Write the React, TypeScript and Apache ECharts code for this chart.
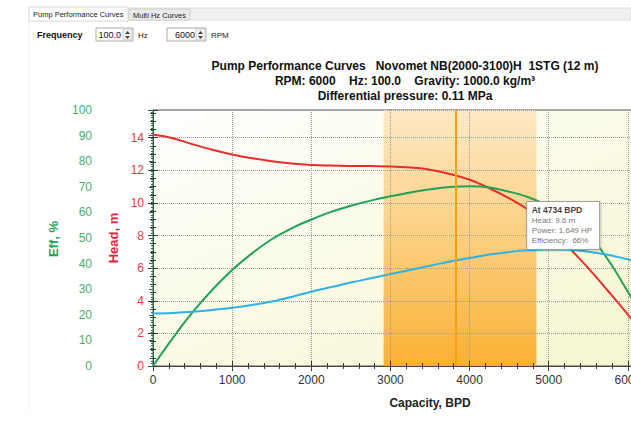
import React, { useEffect, useRef } from "react";
import * as echarts from "echarts";

const capacity = [0, 250, 500, 750, 1000, 1250, 1500, 1750, 2000, 2250, 2500, 2750, 3000, 3250, 3500, 3750, 4000, 4250, 4500, 4734, 5000, 5250, 5500, 5750, 6000, 6250];
const headM = [14.2, 13.97, 13.6, 13.26, 12.97, 12.74, 12.56, 12.42, 12.33, 12.29, 12.27, 12.26, 12.24, 12.17, 12.04, 11.78, 11.42, 10.9, 10.28, 9.6, 8.65, 7.3, 6.0, 4.6, 3.15, 1.6];
const effPct = [0, 10.9, 21, 29.8, 37.5, 44, 49.5, 53.8, 57.2, 60.2, 62.6, 64.6, 66.3, 67.8, 69, 69.9, 70.2, 69.7, 68.1, 66, 62.5, 58, 51.5, 41.5, 29, 16];
const powerHP = [0.75, 0.755, 0.775, 0.8, 0.83, 0.87, 0.92, 0.985, 1.06, 1.125, 1.19, 1.25, 1.31, 1.37, 1.43, 1.49, 1.54, 1.59, 1.625, 1.649, 1.66, 1.657, 1.63, 1.585, 1.52, 1.44];

const bandRange = [2914, 4845];
const bepCapacity = 3824;
const tip = { bpd: 4734, head: 9.6, power: 1.649, eff: 66 };

const titleLines = [
  "Pump Performance Curves   Novomet NB(2000-3100)H  1STG (12 m)",
  "RPM: 6000    Hz: 100.0    Gravity: 1000.0 kg/m³",
  "Differential pressure: 0.11 MPa",
];

const FONT = "'Liberation Sans', Arial, sans-serif";
const UIFONT = "'Liberation Sans', Arial, sans-serif";

export default function App() {
  const ref = useRef<HTMLDivElement>(null);
  useEffect(() => {
    if (!ref.current) return;
    const chart = echarts.init(ref.current, undefined, { renderer: "svg" });
    const pairs = (ys: number[]) => capacity.map((c, i) => [c, ys[i]]);
    const dotted = { show: true, lineStyle: { color: "#9a9a9a", type: "dotted" as const, width: 1 } };
    const baseX = { type: "value" as const, min: 0, max: 7000, interval: 1000, gridIndex: 0 };
    const option: any = {
      animation: false,
      backgroundColor: "#ffffff",
      grid: {
        left: 153, top: 110, width: 554, height: 256, show: true,
        backgroundColor: new echarts.graphic.LinearGradient(0, 0, 1, 1, [
          { offset: 0, color: "#ffffff" },
          { offset: 1, color: "#f5f5cc" },
        ]),
        borderColor: "#555", borderWidth: 1, z: 0,
      },
      xAxis: [
        {
          ...baseX, position: "bottom", z: 2,
          axisLine: { show: true, lineStyle: { color: "#333" } },
          axisTick: { show: true, length: 5, lineStyle: { color: "#333" } },
          minorTick: { show: true, splitNumber: 5, length: 3, lineStyle: { color: "#333" } },
          axisLabel: { color: "#333", fontSize: 12, fontFamily: FONT, margin: 8, formatter: (v: number) => String(v) },
          splitLine: dotted,
        },
        {
          ...baseX, position: "bottom", z: 2,
          axisLine: { show: false },
          axisTick: { show: true, inside: true, length: 5, lineStyle: { color: "#333" } },
          minorTick: { show: true, splitNumber: 5, length: 3, lineStyle: { color: "#333" } },
          axisLabel: { show: false }, splitLine: { show: false },
        },
        {
          ...baseX, position: "top", z: 2,
          axisLine: { show: true, lineStyle: { color: "#444" } },
          axisTick: { show: true, inside: true, length: 4, lineStyle: { color: "#444" } },
          minorTick: { show: true, splitNumber: 5, length: 3, lineStyle: { color: "#444" } },
          axisLabel: { show: false }, splitLine: { show: false },
        },
      ],
      yAxis: [
        {
          type: "value", min: 0, max: 15.7, interval: 2, position: "left", z: 2,
          axisLine: { show: true, lineStyle: { color: "#333" } },
          axisTick: { show: true, length: 5, lineStyle: { color: "#333" } },
          minorTick: { show: true, splitNumber: 4, length: 3, lineStyle: { color: "#333" } },
          axisLabel: { color: "#e03a4a", fontSize: 12, fontFamily: FONT, margin: 9, showMaxLabel: false },
          splitLine: dotted,
        },
        {
          type: "value", min: 0, max: 15.7, interval: 2, position: "left", z: 2,
          axisLine: { show: false },
          axisTick: { show: true, inside: true, length: 5, lineStyle: { color: "#333" } },
          minorTick: { show: true, splitNumber: 4, length: 3, lineStyle: { color: "#333" } },
          axisLabel: { show: false }, splitLine: { show: false },
        },
        {
          type: "value", min: 0, max: 100, interval: 10, position: "left", offset: 53, z: 2,
          axisLine: { show: true, lineStyle: { color: "#2d6b45" } },
          axisTick: { show: true, length: 4, lineStyle: { color: "#2d6b45" } },
          minorTick: { show: true, splitNumber: 10, length: 2, lineStyle: { color: "#2d6b45" } },
          axisLabel: { color: "#45b070", fontSize: 12, fontFamily: FONT, margin: 8 },
          splitLine: { show: false },
        },
        {
          type: "value", min: 0, max: 3.65, position: "right", show: false,
          splitLine: { show: false },
        },
      ],
      series: [
        {
          type: "line", name: "band", xAxisIndex: 0, yAxisIndex: 0, data: [], z: 1,
          silent: true,
          markArea: {
            silent: true,
            itemStyle: {
              color: new echarts.graphic.LinearGradient(0, 0, 0, 1, [
                { offset: 0, color: "#fde9c6" },
                { offset: 0.5, color: "#fccf80" },
                { offset: 1, color: "#fbb033" },
              ]),
            },
            data: [[{ xAxis: bandRange[0] }, { xAxis: bandRange[1] }]],
          },
          markLine: {
            silent: true, symbol: "none", label: { show: false },
            lineStyle: { color: "#f2a20f", width: 2, type: "solid" },
            data: [{ xAxis: bepCapacity }],
          },
        },
        {
          type: "line", name: "Head", xAxisIndex: 0, yAxisIndex: 0, z: 3,
          data: pairs(headM), smooth: 0.4, showSymbol: false,
          lineStyle: { color: "#e62f2a", width: 2 },
        },
        {
          type: "line", name: "Efficiency", xAxisIndex: 0, yAxisIndex: 2, z: 3,
          data: pairs(effPct), smooth: 0.4, showSymbol: false,
          lineStyle: { color: "#22a256", width: 2 },
        },
        {
          type: "line", name: "Power", xAxisIndex: 0, yAxisIndex: 3, z: 3,
          data: pairs(powerHP), smooth: 0.4, showSymbol: false,
          lineStyle: { color: "#2fb2e2", width: 2 },
        },
      ],
    };
    chart.setOption(option);

    const p = chart.convertToPixel({ xAxisIndex: 0, yAxisIndex: 0 }, [tip.bpd, tip.head]) as number[];
    const tx = p[0] - 1;
    const ty = p[1] - 8;

    const graphics: any[] = [
      // tab strip
      { type: "rect", shape: { x: 128, y: 8, width: 503, height: 12 }, style: { fill: "#f0f0f0", stroke: "#dcdcdc" }, z: 50 },
      { type: "rect", shape: { x: 129, y: 9, width: 61, height: 11 }, style: { fill: "#e9e9e9", stroke: "#cfcfcf" }, z: 51 },
      { type: "rect", shape: { x: 29, y: 7, width: 99, height: 14 }, style: { fill: "#ffffff", stroke: "#d6d6d6" }, z: 51 },
      { type: "line", shape: { x1: 29, y1: 21, x2: 29, y2: 410 }, style: { stroke: "#ececec" }, z: 50 },
      { type: "text", x: 33, y: 14, style: { text: "Pump Performance Curves", font: `7.5px ${UIFONT}`, fill: "#222", verticalAlign: "middle" }, z: 52 },
      { type: "text", x: 133, y: 15, style: { text: "Multi Hz Curves", font: `7.5px ${UIFONT}`, fill: "#222", verticalAlign: "middle" }, z: 52 },
      // frequency controls
      { type: "text", x: 37, y: 35, style: { text: "Frequency", font: `bold 9px ${UIFONT}`, fill: "#111", verticalAlign: "middle" }, z: 52 },
      { type: "rect", shape: { x: 96, y: 28, width: 37, height: 13 }, style: { fill: "#fff", stroke: "#a9a9a9" }, z: 51 },
      { type: "text", x: 121, y: 35, style: { text: "100.0", font: `9px ${UIFONT}`, fill: "#111", align: "right", verticalAlign: "middle" }, z: 52 },
      { type: "rect", shape: { x: 123, y: 29, width: 9, height: 11 }, style: { fill: "#f2f2f2", stroke: "#cfcfcf" }, z: 52 },
      { type: "polygon", shape: { points: [[125, 34], [130, 34], [127.5, 31]] }, style: { fill: "#444" }, z: 53 },
      { type: "polygon", shape: { points: [[125, 36], [130, 36], [127.5, 39]] }, style: { fill: "#444" }, z: 53 },
      { type: "text", x: 138, y: 35, style: { text: "Hz", font: `8px ${UIFONT}`, fill: "#222", verticalAlign: "middle" }, z: 52 },
      { type: "rect", shape: { x: 167, y: 28, width: 39, height: 13 }, style: { fill: "#fff", stroke: "#a9a9a9" }, z: 51 },
      { type: "text", x: 195, y: 35, style: { text: "6000", font: `9px ${UIFONT}`, fill: "#111", align: "right", verticalAlign: "middle" }, z: 52 },
      { type: "rect", shape: { x: 196, y: 29, width: 9, height: 11 }, style: { fill: "#f2f2f2", stroke: "#cfcfcf" }, z: 52 },
      { type: "polygon", shape: { points: [[198, 34], [203, 34], [200.5, 31]] }, style: { fill: "#444" }, z: 53 },
      { type: "polygon", shape: { points: [[198, 36], [203, 36], [200.5, 39]] }, style: { fill: "#444" }, z: 53 },
      { type: "text", x: 211, y: 35, style: { text: "RPM", font: `8px ${UIFONT}`, fill: "#222", verticalAlign: "middle" }, z: 52 },
      // titles
      ...titleLines.map((t, i) => ({
        type: "text", x: 405, y: 66 + i * 15,
        style: { text: t, font: `bold 12px ${FONT}`, fill: "#111", align: "center", verticalAlign: "middle" }, z: 52,
      })),
      // axis names
      { type: "text", x: 53, y: 239, rotation: Math.PI / 2, style: { text: "Eff, %", font: `bold 13px ${FONT}`, fill: "#22a256", align: "center", verticalAlign: "middle" }, z: 52 },
      { type: "text", x: 113, y: 238, rotation: Math.PI / 2, style: { text: "Head, m", font: `bold 13px ${FONT}`, fill: "#e0263a", align: "center", verticalAlign: "middle" }, z: 52 },
      { type: "text", x: 430, y: 403, style: { text: "Capacity, BPD", font: `bold 12px ${FONT}`, fill: "#222", align: "center", verticalAlign: "middle" }, z: 52 },
      // tooltip
      { type: "rect", shape: { x: tx, y: ty, width: 73, height: 48 }, style: { fill: "#ffffff", stroke: "#9a9a9a", lineWidth: 1, shadowBlur: 2, shadowColor: "rgba(0,0,0,0.2)", shadowOffsetX: 1, shadowOffsetY: 1 }, z: 100 },
      { type: "text", x: tx + 5, y: ty + 9, style: { text: `At ${tip.bpd} BPD`, font: `bold 8.5px ${UIFONT}`, fill: "#444", verticalAlign: "middle" }, z: 101 },
      { type: "text", x: tx + 5, y: ty + 19.5, style: { text: `Head: ${tip.head} m`, font: `8px ${UIFONT}`, fill: "#777", verticalAlign: "middle" }, z: 101 },
      { type: "text", x: tx + 5, y: ty + 29.5, style: { text: `Power: ${tip.power} HP`, font: `8px ${UIFONT}`, fill: "#777", verticalAlign: "middle" }, z: 101 },
      { type: "text", x: tx + 5, y: ty + 39.5, style: { text: `Efficiency:  ${tip.eff}%`, font: `8px ${UIFONT}`, fill: "#777", verticalAlign: "middle" }, z: 101 },
    ];
    chart.setOption({ graphic: graphics });
    return () => chart.dispose();
  }, []);
  return (
    <div style={{ position: "fixed", left: 0, top: 0, width: 631, height: 423, overflow: "hidden", background: "#fff" }}>
      <div ref={ref} style={{ width: 760, height: 423 }} />
    </div>
  );
}
